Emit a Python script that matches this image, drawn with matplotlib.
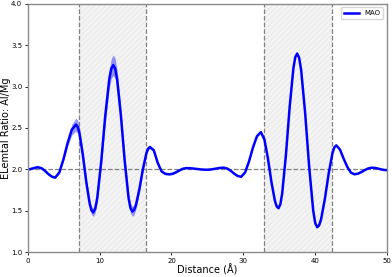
import matplotlib
matplotlib.use("Agg")
import matplotlib.pyplot as plt
import numpy as np

# distance (A) and mean Al/Mg ratio
distance = [
    0.0, 0.29, 0.58, 0.87, 1.16,
    1.45, 1.92, 2.39, 2.86, 3.33,
    3.8, 4.38, 4.96, 5.54, 6.12,
    6.7, 6.94, 7.18, 7.66, 8.14, 8.62, 8.86,
    9.1, 9.38, 9.66, 10.22, 10.78, 11.34, 11.62,
    11.9, 12.165, 12.43, 12.96, 13.49, 14.02, 14.285,
    14.55, 14.795, 15.04, 15.53, 16.02, 16.51, 16.755,
    17.0, 17.54, 18.08, 18.62, 19.16,
    19.7, 20.18, 20.66, 21.14, 21.62,
    22.1, 22.66, 23.22, 23.78, 24.34,
    24.9, 25.38, 25.86, 26.34, 26.82,
    27.3, 27.78, 28.26, 28.74, 29.22,
    29.7, 30.25, 30.8, 31.35, 31.9,
    32.45, 32.94, 33.43, 33.92, 34.41, 34.655,
    34.9, 35.16, 35.42, 35.94, 36.46, 36.98, 37.24,
    37.5, 37.78, 38.06, 38.62, 39.18, 39.74, 40.02,
    40.3, 40.565, 40.83, 41.36, 41.89, 42.42, 42.685,
    42.95, 43.46, 43.97, 44.48, 44.99,
    45.5, 45.98, 46.46, 46.94, 47.42,
    47.9, 48.32, 48.74, 49.16, 49.58, 50.0,
]
ratio = [
    2.000, 2.002, 2.009, 2.016, 2.023,
    2.025, 2.013, 1.982, 1.943, 1.912,
    1.900, 1.961, 2.121, 2.319, 2.479,
    2.540, 2.514, 2.439, 2.174, 1.846, 1.581, 1.505,
    1.480, 1.524, 1.650, 2.094, 2.646, 3.091, 3.217,
    3.260, 3.217, 3.091, 2.649, 2.101, 1.658, 1.533,
    1.490, 1.509, 1.564, 1.759, 2.001, 2.196, 2.251,
    2.270, 2.230, 2.080, 1.975, 1.945,
    1.940, 1.947, 1.966, 1.989, 2.008,
    2.015, 2.013, 2.008, 2.002, 1.997,
    1.995, 1.997, 2.004, 2.011, 2.018,
    2.020, 2.009, 1.982, 1.948, 1.920,
    1.910, 1.962, 2.096, 2.264, 2.399,
    2.450, 2.362, 2.133, 1.847, 1.617, 1.552,
    1.530, 1.576, 1.709, 2.175, 2.755, 3.222, 3.355,
    3.400, 3.349, 3.199, 2.676, 2.025, 1.500, 1.350,
    1.300, 1.324, 1.395, 1.642, 1.948, 2.196, 2.266,
    2.290, 2.240, 2.130, 2.030, 1.960,
    1.940, 1.948, 1.968, 1.992, 2.012,
    2.020, 2.017, 2.010, 2.000, 1.993, 1.990,
]
# spread (half width of shaded band)
spread = [
    0.005, 0.006, 0.008, 0.010, 0.012,
    0.012, 0.012, 0.011, 0.010, 0.010,
    0.010, 0.012, 0.020, 0.040, 0.065,
    0.080, 0.080, 0.075, 0.060, 0.050, 0.050, 0.050,
    0.050, 0.050, 0.055, 0.070, 0.090, 0.110, 0.120,
    0.125, 0.120, 0.110, 0.090, 0.070, 0.060, 0.060,
    0.060, 0.055, 0.050, 0.040, 0.030, 0.025, 0.020,
    0.020, 0.018, 0.015, 0.012, 0.010,
    0.010, 0.010, 0.010, 0.010, 0.010,
] + [0.004] * 63

regions = [(7.1, 16.5), (32.9, 42.3)]

distance = np.array(distance)
ratio = np.array(ratio)
spread = np.array(spread)

fig = plt.figure(figsize=(3.92, 2.77), dpi=100)
ax = fig.add_axes([0.071, 0.09, 0.916, 0.896])

for lo, hi in regions:
    ax.axvspan(lo, hi, facecolor='#f4f4f4', edgecolor='#ebebeb', hatch='//////', lw=0)
    ax.axvline(lo, color='grey', ls='--', lw=0.9)
    ax.axvline(hi, color='grey', ls='--', lw=0.9)
ax.axhline(2.0, color='grey', ls='--', lw=0.9)

ax.fill_between(distance, ratio - spread, ratio + spread, color='blue', alpha=0.4, lw=0)
ax.plot(distance, ratio, color='blue', lw=1.8, label='MAO')

ax.set_xlim(0, 50)
ax.set_ylim(1.0, 4.0)
ax.set_xticks([0, 10, 20, 30, 40, 50])
ax.set_yticks([1.0, 1.5, 2.0, 2.5, 3.0, 3.5, 4.0])
ax.tick_params(labelsize=5, length=2.5, width=0.6, pad=1.5)
ax.set_xlabel('Distance (Å)', fontsize=7, labelpad=0)
ax.set_ylabel('ELemtal Ratio: Al/Mg', fontsize=7, labelpad=0)
for s in ax.spines.values():
    s.set_color('#8a8a8a')
    s.set_linewidth(1.0)

ax.legend(loc='upper right', fontsize=5, handlelength=2.2, frameon=True)

fig.savefig('out.png', dpi=100)
